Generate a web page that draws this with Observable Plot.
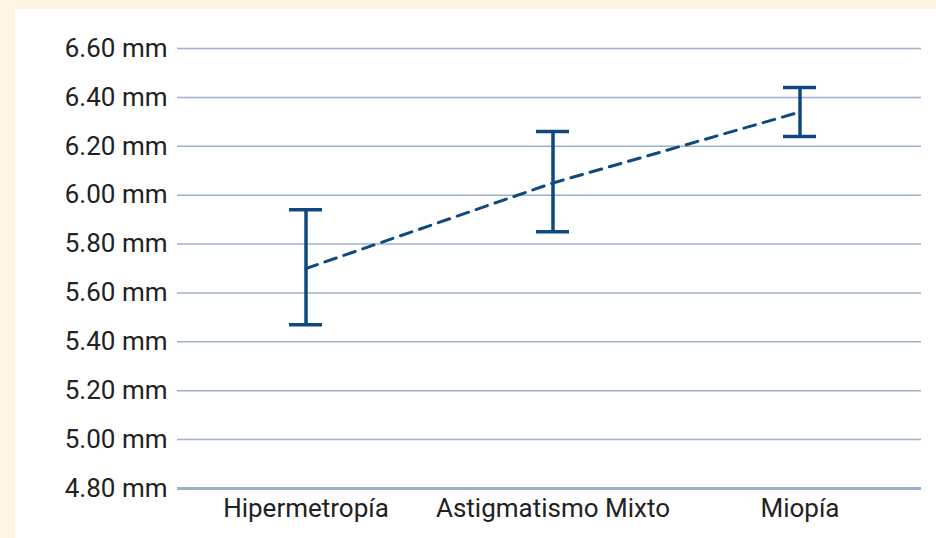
<!DOCTYPE html>
<html>
<head>
<meta charset="utf-8">
<script src="https://cdn.jsdelivr.net/npm/d3@7"></script>
<script src="https://cdn.jsdelivr.net/npm/@observablehq/plot@0.6"></script>
<style>
  html, body { margin: 0; padding: 0; background: #fdf4e1; width: 936px; height: 538px; overflow: hidden; }
  #panel { position: absolute; left: 15px; top: 9px; width: 921px; height: 529px; background: #ffffff; }
  #panel svg { display: block; font-family: Roboto, "Noto Sans", sans-serif; }
</style>
</head>
<body>
<div id="panel"></div>
<script>
const categories = ["Hipermetropía", "Astigmatismo Mixto", "Miopía"];
const lowValues  = [5.47, 5.85, 6.24];
const highValues = [5.94, 6.26, 6.44];
const meanValues = [5.70, 6.05, 6.34];
const yTicks = [4.8, 5.0, 5.2, 5.4, 5.6, 5.8, 6.0, 6.2, 6.4, 6.6];

const data = categories.map((c, i) => ({cat: c, low: lowValues[i], high: highValues[i], mean: meanValues[i]}));

const blue = "#0e4a80";
const grid = "#9cb0cc";

const chart = Plot.plot({
  width: 921,
  height: 529,
  marginLeft: 162,
  marginRight: 15,
  marginTop: 39,
  marginBottom: 50,
  style: {background: "transparent", fontFamily: "Roboto, 'Noto Sans', sans-serif", color: "#222"},
  x: {domain: categories, padding: 0, range: [166, 908], label: null},
  y: {domain: [4.8, 6.6], label: null},
  marks: [
    Plot.ruleY(yTicks.filter(d => d > 4.8), {stroke: grid, strokeWidth: 1.5}),
    Plot.ruleY([4.8], {stroke: grid, strokeWidth: 3}),
    Plot.axisY({ticks: yTicks, tickSize: 0, tickPadding: 10, fontSize: 26, tickFormat: d => d.toFixed(2) + " mm", label: null, fill: "#222"}),
    Plot.axisX({tickSize: 0, tickPadding: 10, fontSize: 26, label: null, fill: "#222"}),
    Plot.line(data, {x: "cat", y: "mean", stroke: blue, strokeWidth: 3, strokeDasharray: "12,8"}),
    Plot.ruleX(data, {x: "cat", y1: "low", y2: "high", stroke: blue, strokeWidth: 3.5}),
    Plot.tickY(data, {x: "cat", y: "low", stroke: blue, strokeWidth: 3.5, insetLeft: 107, insetRight: 107}),
    Plot.tickY(data, {x: "cat", y: "high", stroke: blue, strokeWidth: 3.5, insetLeft: 107, insetRight: 107})
  ]
});
document.getElementById("panel").appendChild(chart);
</script>
</body>
</html>
